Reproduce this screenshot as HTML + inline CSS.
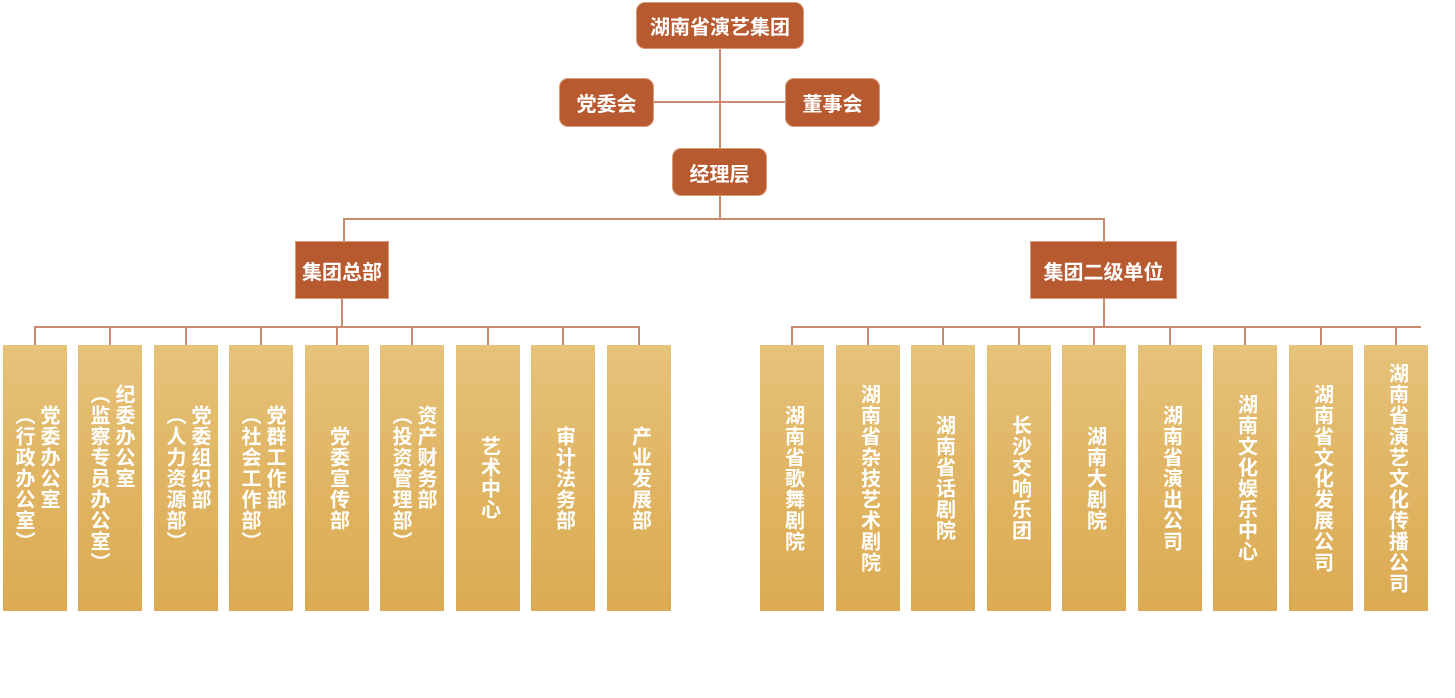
<!DOCTYPE html>
<html><head><meta charset="utf-8"><style>
body{margin:0;width:1455px;height:698px;background:#fff;position:relative;overflow:hidden;font-family:"Liberation Sans","Noto Sans CJK SC",sans-serif;}
.b{position:absolute;background:#b85a30;color:#fff;font-weight:bold;font-size:20px;display:flex;align-items:center;justify-content:center;border-radius:9px;border:1px solid #d99a7a;box-sizing:border-box;}
.l{position:absolute;background:#c98a70;}
.c{position:absolute;top:345px;height:266px;width:64px;background:linear-gradient(180deg,#e6c27a 0%,#e0b563 50%,#dcab52 100%);display:flex;align-items:center;justify-content:center;}
.c span{writing-mode:vertical-rl;color:#fff;font-weight:bold;font-size:20px;line-height:25px;letter-spacing:1px;}
</style></head><body>
<div class="l" style="left:719px;top:48px;width:2px;height:172px"></div>
<div class="l" style="left:653px;top:101px;width:134px;height:2px"></div>
<div class="l" style="left:343px;top:218px;width:762px;height:2px"></div>
<div class="l" style="left:343px;top:218px;width:2px;height:24px"></div>
<div class="l" style="left:1103px;top:218px;width:2px;height:24px"></div>
<div class="l" style="left:341px;top:298px;width:2px;height:30px"></div>
<div class="l" style="left:1103px;top:298px;width:2px;height:30px"></div>
<div class="l" style="left:35px;top:326px;width:605px;height:2px"></div>
<div class="l" style="left:793px;top:326px;width:628px;height:2px"></div>

<div class="b" style="left:636px;top:2px;width:168px;height:47px">湖南省演艺集团</div>
<div class="b" style="left:559px;top:78px;width:95px;height:49px">党委会</div>
<div class="b" style="left:785px;top:78px;width:95px;height:49px">董事会</div>
<div class="b" style="left:672px;top:148px;width:95px;height:48px">经理层</div>
<div class="b" style="left:295px;top:241px;width:94px;height:58px;border-radius:0">集团总部</div>
<div class="b" style="left:1030px;top:241px;width:147px;height:58px;border-radius:0">集团二级单位</div>

<div id="L"></div>
<script>
var L=[[3,"党委办公室<br>（行政办公室）"],[78,"纪委办公室<br>（监察专员办公室）"],[154,"党委组织部<br>（人力资源部）"],[229,"党群工作部<br>（社会工作部）"],[305,"党委宣传部"],[380,"资产财务部<br>（投资管理部）"],[456,"艺术中心"],[531,"审计法务部"],[607,"产业发展部"],
[760,"湖南省歌舞剧院"],[836,"湖南省杂技艺术剧院"],[911,"湖南省话剧院"],[987,"长沙交响乐团"],[1062,"湖南大剧院"],[1138,"湖南省演出公司"],[1213,"湖南文化娱乐中心"],[1289,"湖南省文化发展公司"],[1364,"湖南省演艺文化传播公司"]];
var h="";L.forEach(function(a){var cx=a[0]+32;h+='<div class="l" style="left:'+(cx-1)+'px;top:326px;width:2px;height:20px"></div><div class="c" style="left:'+a[0]+'px"><span>'+a[1]+'</span></div>';});
document.getElementById("L").innerHTML=h;
</script>
</body></html>
